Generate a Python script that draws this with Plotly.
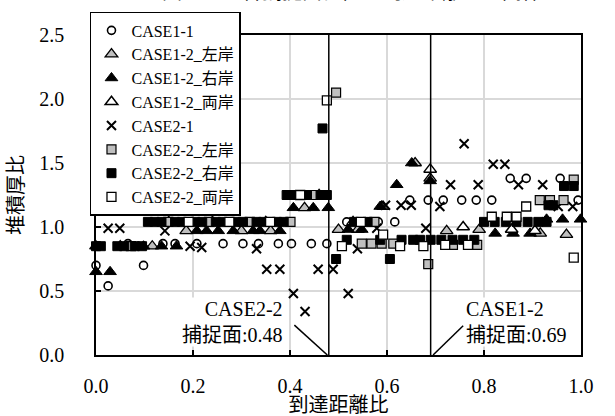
import plotly.graph_objects as go

# ---------------- data ----------------
case1_1_x = [0.000,0.025,0.066,0.098,0.138,0.163,0.208,0.262,0.303,0.335,0.376,0.403,0.444,0.476,
             0.517,0.561,0.582,0.616,0.647,0.685,0.716,0.754,0.784,0.816,0.854,0.887,0.957,0.994]
case1_1_y = [0.70,0.54,0.87,0.70,0.87,0.87,0.87,0.87,0.87,0.87,0.87,0.87,0.87,0.87,
             1.04,1.04,1.04,1.04,1.21,1.21,1.21,1.21,1.21,1.21,1.38,1.38,1.38,1.21]

case1_2_l_x = [0.000,0.116,0.186,0.300,0.360,0.430,0.500,0.540,0.592,0.658,0.689,0.723,0.790,0.916,0.970]
case1_2_l_y = [0.85,0.85,0.97,0.97,0.97,1.15,0.98,0.98,1.16,1.50,1.38,0.97,0.98,0.95,0.94]

case1_2_r_x = [0.000,0.029,0.070,0.098,0.135,0.166,0.208,0.228,0.252,0.283,0.324,0.338,0.379,0.407,
               0.448,0.479,0.520,0.548,0.586,0.620,0.651,0.689,0.823,0.860,0.895,0.929,0.962,0.999]
case1_2_r_y = [0.65,0.65,0.85,0.85,0.85,0.85,0.97,0.97,0.97,0.97,0.97,0.97,0.97,1.15,
               1.15,1.15,0.98,0.98,1.16,1.33,1.50,1.36,0.95,0.95,0.95,1.06,1.06,1.06]

case1_2_b_x = [0.050,0.150,0.240,0.350,0.460,0.530,0.689,0.757,0.857,0.905]
case1_2_b_y = [0.85,1.04,1.04,1.04,1.25,1.04,1.45,1.00,0.98,0.97]

case2_1_x = [0.025,0.049,0.080,0.111,0.142,0.194,0.218,0.331,0.352,0.379,0.407,0.431,0.458,0.489,0.520,
             0.539,0.579,0.597,0.629,0.650,0.680,0.709,0.731,0.759,0.788,0.819,0.843,0.871,0.921,0.953,0.983]
case2_1_y = [0.99,0.99,1.16,1.16,0.97,0.85,0.84,0.83,0.67,0.67,0.48,0.34,0.67,0.67,0.48,
             0.83,0.99,1.17,1.17,1.17,0.99,1.16,1.33,1.65,1.33,1.49,1.49,1.33,1.33,1.16,1.16]

case2_2_l_x = [0.072,0.149,0.233,0.317,0.401,0.449,0.495,0.574,0.548,0.568,0.589,0.613,0.685,0.736,0.786,
               0.915,0.936,0.964,0.985]
case2_2_l_y = [0.85,1.04,1.04,1.04,1.04,1.25,2.05,1.04,0.87,0.87,0.87,0.87,0.71,0.86,0.86,
               1.21,1.21,1.21,1.37]

case2_2_r_x = [0.000,0.010,0.044,0.058,0.080,0.095,
               0.107,0.121,0.135,0.163,0.177,0.205,0.219,0.247,0.261,0.289,0.303,0.331,0.345,0.373,0.387,
               0.393,0.407,0.435,0.463,0.476,0.467,0.495,0.517,0.532,0.560,
               0.586,0.606,0.630,0.654,0.668,0.690,0.712,0.735,0.757,0.780,
               0.800,0.822,0.845,0.867,0.890,0.912,0.929,0.933,0.943,0.965,0.985]
case2_2_r_y = [0.85,0.85,0.85,0.85,0.85,0.85,
               1.04,1.04,1.04,1.04,1.04,1.04,1.04,1.04,1.04,1.04,1.04,1.04,1.04,1.04,1.04,
               1.25,1.25,1.25,1.25,1.25,1.77,0.75,0.90,1.04,1.04,
               0.90,0.75,0.90,0.90,0.90,0.90,0.90,0.90,0.90,0.90,
               1.04,1.04,1.04,1.04,1.04,1.04,1.04,1.17,1.17,1.32,1.32]

case2_2_b_x = [0.191,0.275,0.359,0.421,0.476,0.546,0.507,0.592,0.627,0.675,0.720,0.767,
               0.816,0.847,0.867,0.887,0.985]
case2_2_b_y = [1.04,1.04,1.04,1.25,1.99,1.04,0.85,0.94,0.85,0.85,0.86,0.86,
               1.08,1.08,1.08,1.16,0.76]

capture_x = [0.48, 0.69]
capture_labels = ["CASE2-2<br>捕捉面:0.48", "CASE1-2<br>捕捉面:0.69"]

x_ticks = [0.0, 0.2, 0.4, 0.6, 0.8, 1.0]
y_ticks = [0.0, 0.5, 1.0, 1.5, 2.0, 2.5]

# ---------------- figure ----------------
FONT = "Liberation Serif, Times New Roman, Noto Sans CJK JP, serif"
GRAY = "#bfbfbf"

fig = go.Figure()

def add(name, xs, ys, symbol, size, fill, lw, lc="black"):
    fig.add_trace(go.Scatter(
        x=xs, y=ys, mode="markers", name=name, cliponaxis=False,
        marker=dict(symbol=symbol, size=size, color=fill,
                    line=dict(color=lc, width=lw))))

add("CASE1-1", case1_1_x, case1_1_y, "circle-open", 8, "black", 1.6)
add("CASE1-2_左岸", case1_2_l_x, case1_2_l_y, "triangle-up", 11, GRAY, 1.3)
add("CASE1-2_右岸", case1_2_r_x, case1_2_r_y, "triangle-up", 11, "black", 1.0)
add("CASE1-2_両岸", case1_2_b_x, case1_2_b_y, "triangle-up", 11, "white", 1.5)
add("CASE2-1", case2_1_x, case2_1_y, "x-thin-open", 9, "black", 2.0)
add("CASE2-2_左岸", case2_2_l_x, case2_2_l_y, "square", 9, GRAY, 1.2)
add("CASE2-2_右岸", case2_2_r_x, case2_2_r_y, "square", 9, "black", 1.0)
add("CASE2-2_両岸", case2_2_b_x, case2_2_b_y, "square", 9, "white", 1.3)

# capture-plane vertical lines
for cx in capture_x:
    fig.add_shape(type="line", xref="x", yref="paper", x0=cx, x1=cx, y0=0, y1=1,
                  line=dict(color="black", width=1.5))

# leader lines
fig.add_shape(type="line", xref="x", yref="y", x0=0.409, y0=0.233, x1=capture_x[0] - 0.003, y1=0,
              line=dict(color="black", width=1.5))
fig.add_shape(type="line", xref="x", yref="y", x0=capture_x[1] + 0.005, y0=0, x1=0.757, y1=0.229,
              line=dict(color="black", width=1.5))

# labels
fig.add_annotation(x=0.388, y=0.06, xref="x", yref="y", text=capture_labels[0], showarrow=False,
                   xanchor="right", yanchor="bottom", align="right", bgcolor="white",
                   font=dict(family=FONT, size=20, color="black"), borderpad=0)
fig.add_annotation(x=0.761, y=0.06, xref="x", yref="y", text=capture_labels[1], showarrow=False,
                   xanchor="left", yanchor="bottom", align="left", bgcolor="white",
                   font=dict(family=FONT, size=20, color="black"), borderpad=0)

# title, mostly cut off by the top edge as in the reference
fig.add_annotation(x=0.132, y=1.0935, xref="paper", yref="paper",
                   text="図　　　各捕捉面位置と到達距離比の関係", showarrow=False,
                   xanchor="left", yanchor="bottom",
                   font=dict(family=FONT, size=20, color="black"))

fig.update_layout(
    width=615, height=416,
    margin=dict(l=96, r=34, t=35, b=61, autoexpand=False),
    paper_bgcolor="white", plot_bgcolor="white",
    font=dict(family=FONT, size=20, color="black"),
    showlegend=True,
    legend=dict(x=-0.0124, y=1.072, xanchor="left", yanchor="top",
                bgcolor="white", bordercolor="black", borderwidth=1.5,
                font=dict(family=FONT, size=16, color="black"),
                itemwidth=30, tracegroupgap=0, maxheight=300),
)

fig.update_xaxes(range=[0, 1], tickvals=x_ticks, ticktext=[f"{v:.1f}" for v in x_ticks],
                 showgrid=True, gridcolor="#d9d9d9", gridwidth=1.5,
                 showline=True, linecolor="black", linewidth=1.5, mirror=True,
                 ticks="inside", ticklen=5, tickcolor="black", tickwidth=1.5,
                 ticklabelstandoff=12, zeroline=False,
                 tickfont=dict(family=FONT, size=20),
                 title=dict(text="到達距離比", standoff=2, font=dict(family=FONT, size=20)))
fig.update_yaxes(range=[0, 2.5], tickvals=y_ticks, ticktext=[f"{v:.1f}" for v in y_ticks],
                 showgrid=True, gridcolor="#d9d9d9", gridwidth=1.5,
                 showline=True, linecolor="black", linewidth=1.5, mirror=True,
                 ticks="inside", ticklen=5, tickcolor="black", tickwidth=1.5,
                 ticklabelstandoff=26, zeroline=False,
                 tickfont=dict(family=FONT, size=20),
                 title=dict(text="堆積厚比", standoff=10, font=dict(family=FONT, size=20)))

# remove the default page margin so the figure fills the window exactly
fig.write_html("out.html", config={"displayModeBar": False},
               post_script="document.body.style.margin='0';document.body.style.overflow='hidden';")
